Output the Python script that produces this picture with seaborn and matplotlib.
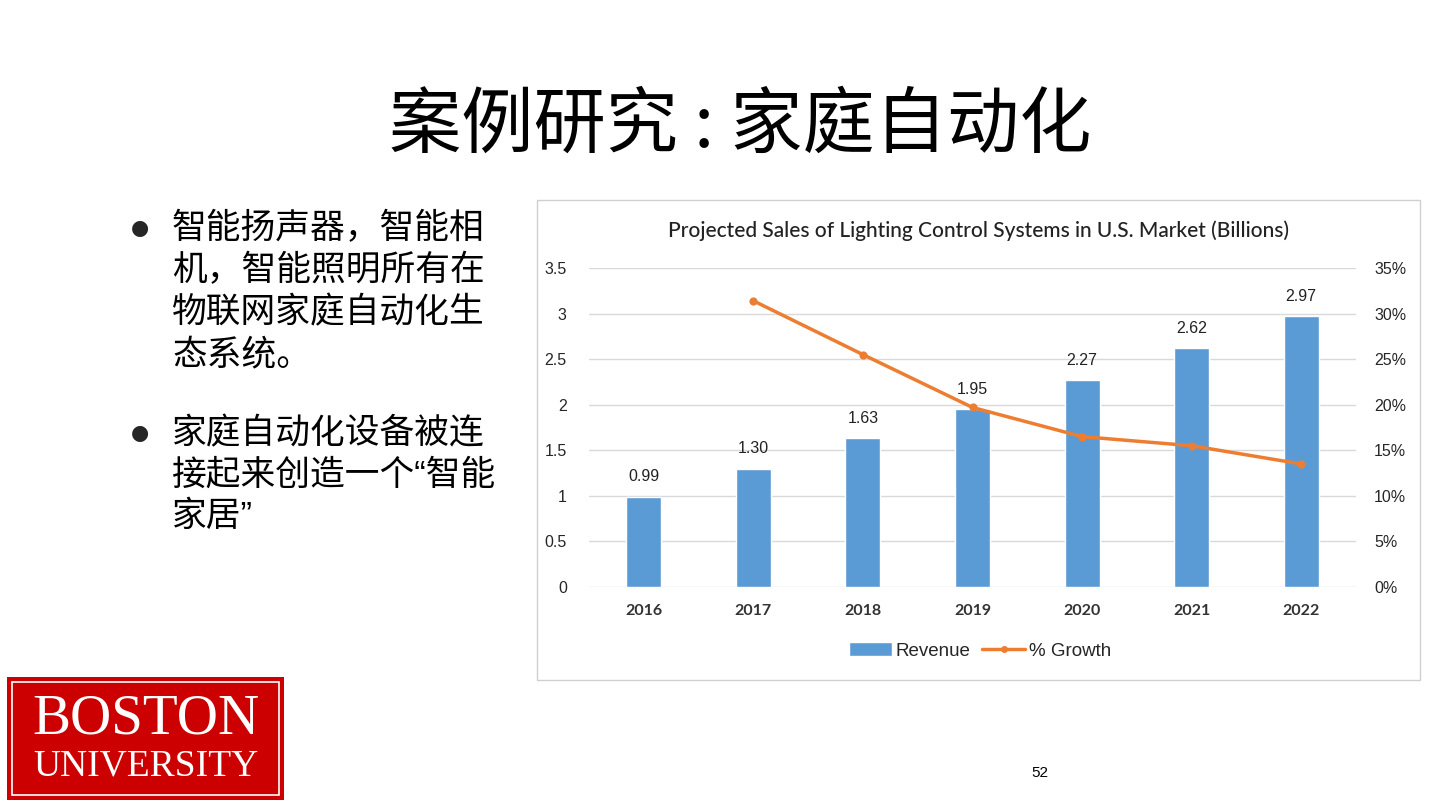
import pandas as pd
import matplotlib.pyplot as plt
import seaborn as sns
from matplotlib.patches import Rectangle, Patch
from matplotlib.lines import Line2D

years = ['2016', '2017', '2018', '2019', '2020', '2021', '2022']
revenue = [0.99, 1.30, 1.63, 1.95, 2.27, 2.62, 2.97]
growth = [None, 31.4, 25.5, 19.7, 16.5, 15.5, 13.5]
left_ticks = [0, 0.5, 1, 1.5, 2, 2.5, 3, 3.5]
left_labels = ['0', '0.5', '1', '1.5', '2', '2.5', '3', '3.5']
right_ticks = [0, 5, 10, 15, 20, 25, 30, 35]

slide_title = '案例研究 : 家庭自动化'
chart_title = 'Projected Sales of Lighting Control Systems in U.S. Market (Billions)'
bullet1 = ['智能扬声器，智能相', '机，智能照明所有在', '物联网家庭自动化生', '态系统。']
bullet2 = ['家庭自动化设备被连', '接起来创造一个“智能', '家居”']

df = pd.DataFrame({'year': years, 'revenue': revenue, 'growth': growth})

sns.set_theme(style='white')
plt.rcParams['font.family'] = ['Noto Sans CJK SC', 'DejaVu Sans']

BLUE = '#5B9BD5'
ORANGE = '#ED7D31'
W, H = 1440, 810


def fx(x):
    return x / W


def fy(y):
    return 1 - y / H


fig = plt.figure(figsize=(14.4, 8.1), dpi=100)
fig.patch.set_facecolor('white')

# slide title
fig.text(fx(740), fy(126), slide_title, ha='center', va='center', fontsize=52, color='black')

# bullets (latin quotes narrow, CJK from Noto)
bullet_font = ['Liberation Sans', 'Noto Sans CJK SC']
for i, line in enumerate(bullet1):
    fig.text(fx(172), fy(229 + i * 42), line, ha='left', va='center', fontsize=25, color='black', family=bullet_font)
for i, line in enumerate(bullet2):
    fig.text(fx(172), fy(434 + i * 41), line, ha='left', va='center', fontsize=25, color='black', family=bullet_font)
fig.text(fx(140), fy(228), '●', ha='center', va='center', fontsize=15, family='DejaVu Sans')
fig.text(fx(140), fy(433), '●', ha='center', va='center', fontsize=15, family='DejaVu Sans')

# chart frame
fig.patches.append(Rectangle((fx(537), fy(680)), fx(1420) - fx(537), fy(200) - fy(680),
                             transform=fig.transFigure, facecolor='white', edgecolor='#D0D0D0', lw=1, zorder=-5))

ax = fig.add_axes([fx(589), fy(587), fx(1356) - fx(589), fy(268) - fy(587)])
ax.set_facecolor('none')
sns.barplot(data=df, x='year', y='revenue', color=BLUE, width=0.32, saturation=1, ax=ax, zorder=2)
ax.set_ylim(0, 3.5)
ax.set_xlim(-0.5, 6.5)
ax.set_yticks(left_ticks)
ax.set_yticklabels(left_labels, family='Liberation Sans', fontsize=11.5, color='#262626')
ax.set_xticks(range(len(years)))
ax.set_xticklabels(years, family='Lato', fontsize=11.5, fontweight='bold', color='#333333')
ax.tick_params(axis='both', length=0)
ax.tick_params(axis='x', pad=12)
ax.tick_params(axis='y', pad=16)
ax.set_xlabel('')
ax.set_ylabel('')
ax.grid(axis='y', color='#D9D9D9', lw=1, zorder=0)
ax.set_axisbelow(True)
for s in ax.spines.values():
    s.set_visible(False)
ax.bar_label(ax.containers[0], fmt='%.2f', padding=9, family='Liberation Sans', fontsize=11.5, color='#222222')

ax2 = ax.twinx()
ax2.set_facecolor('none')
sns.pointplot(data=df, x='year', y='growth', order=years, color=ORANGE, ax=ax2,
              markers='o', markersize=4, linewidth=2.5, zorder=3)
ax2.set_ylim(0, 35)
ax2.set_xlim(-0.5, 6.5)
ax2.set_yticks(right_ticks)
ax2.set_yticklabels([f'{t}%' for t in right_ticks], family='Liberation Sans', fontsize=11.5, color='#262626')
ax2.tick_params(axis='y', length=0, pad=13)
ax2.set_ylabel('')
for s in ax2.spines.values():
    s.set_visible(False)

fig.text(fx(978), fy(231), chart_title, ha='center', va='center', family='Lato', fontsize=15,
         fontweight='medium', color='#222222')

handles = [Patch(facecolor=BLUE, label='Revenue'),
           Line2D([0], [0], color=ORANGE, lw=2.5, marker='o', markersize=4, label='% Growth')]
fig.legend(handles=handles, loc='center', bbox_to_anchor=(fx(980), fy(651)), ncol=2, frameon=False,
           prop={'family': 'Liberation Sans', 'size': 13.5}, handlelength=2.3, columnspacing=0.6, handletextpad=0.2)

# logo
fig.patches.append(Rectangle((fx(7), fy(800)), fx(284) - fx(7), fy(677) - fy(800),
                             transform=fig.transFigure, facecolor='#CC0000', edgecolor='none'))
fig.patches.append(Rectangle((fx(12), fy(795)), fx(279) - fx(12), fy(682) - fy(795),
                             transform=fig.transFigure, facecolor='none', edgecolor='white', lw=1.2))
fig.text(fx(146), fy(719), 'BOSTON', ha='center', va='center', family='Liberation Serif', fontsize=41, color='white')
fig.text(fx(146), fy(766), 'UNIVERSITY', ha='center', va='center', family='Liberation Serif', fontsize=27, color='white')

fig.text(fx(1040), fy(773), '52', ha='center', va='center', family='Liberation Sans', fontsize=11, color='black')

fig.savefig('out.png', dpi=100, facecolor='white')
